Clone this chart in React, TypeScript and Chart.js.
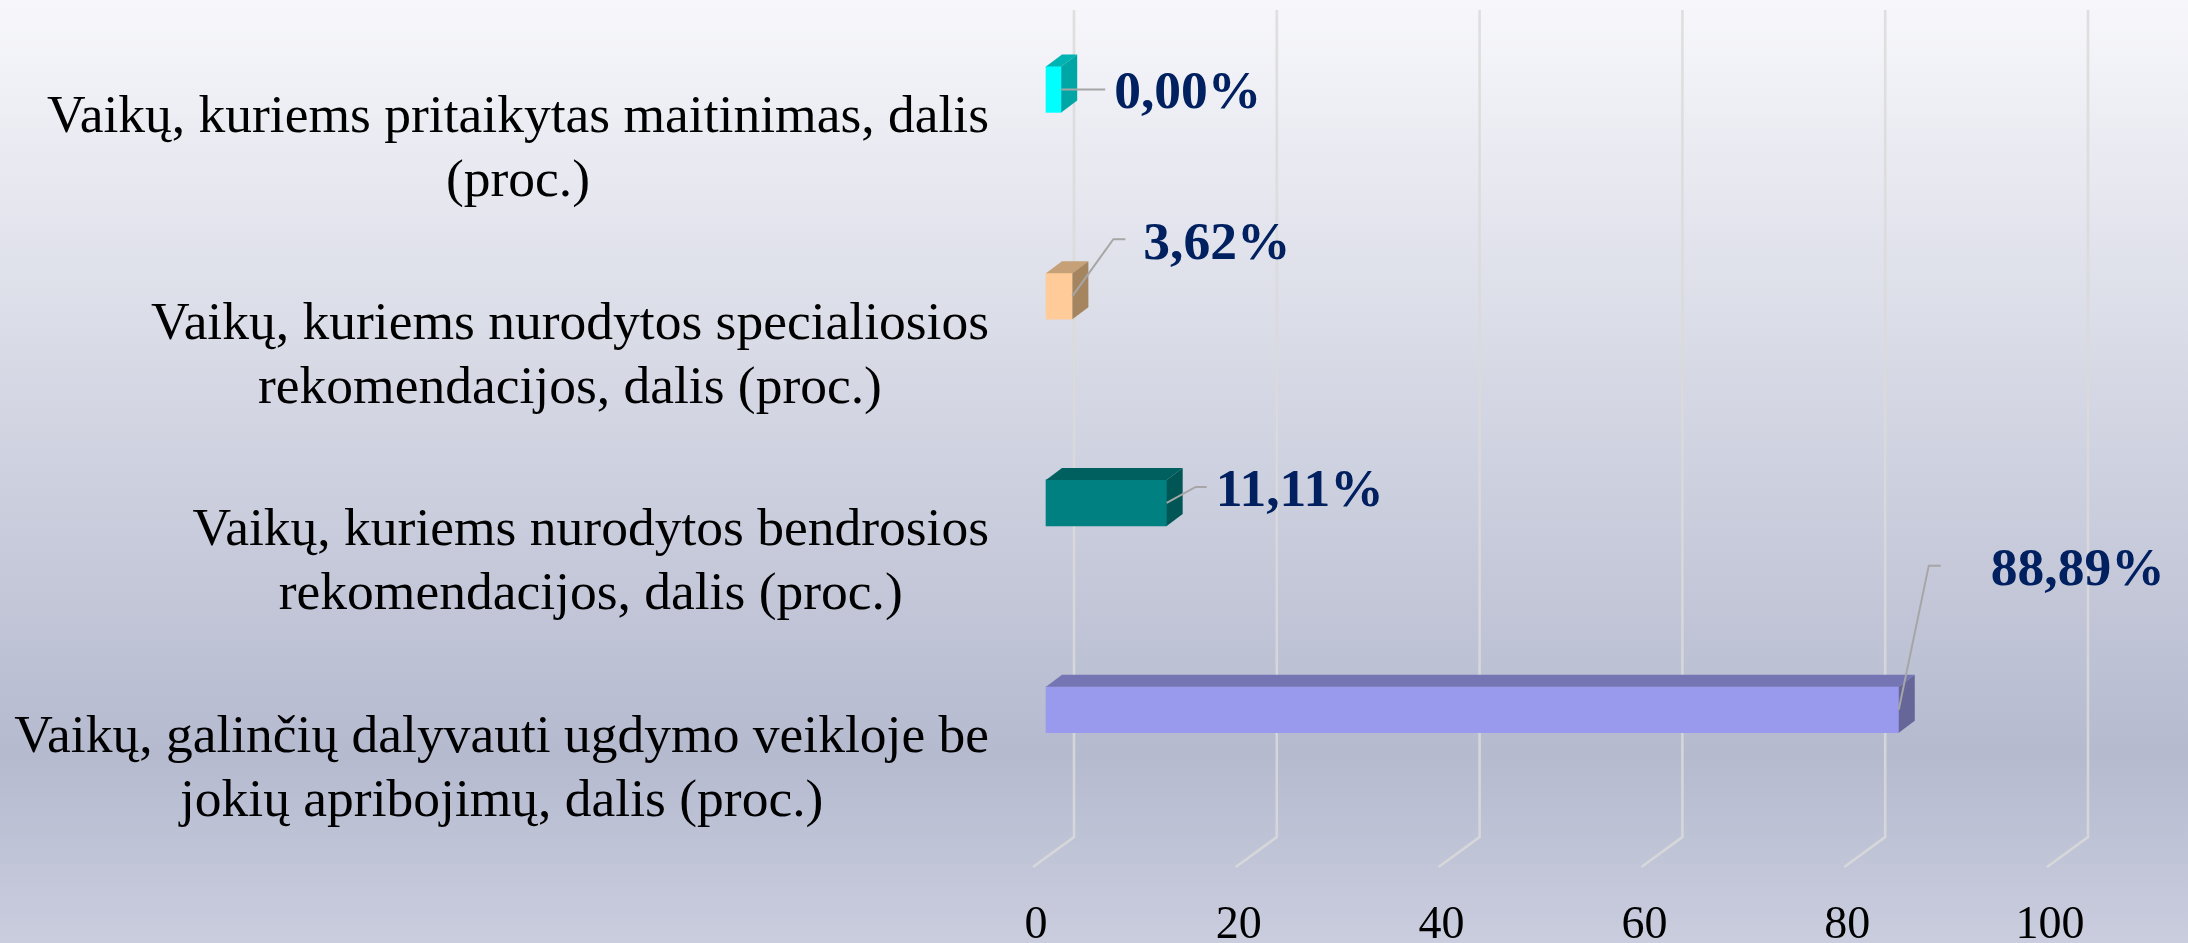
import React, { useEffect, useRef } from "react";
import { Chart, registerables } from "chart.js";

Chart.register(...registerables);

const categories = [
  ["Vaikų, kuriems pritaikytas maitinimas, dalis", "(proc.)"],
  ["Vaikų, kuriems nurodytos specialiosios", "rekomendacijos, dalis (proc.)"],
  ["Vaikų, kuriems nurodytos bendrosios", "rekomendacijos, dalis (proc.)"],
  ["Vaikų, galinčių dalyvauti ugdymo veikloje be", "jokių apribojimų, dalis (proc.)"],
];
// Bar lengths as drawn, read against the axis; the printed labels differ from them in the picture.
const barLengths = [1.5, 2.6, 11.9, 84.1];
const valueLabels = ["0,00%", "3,62%", "11,11%", "88,89%"];
const frontColors = ["#00FFFF", "#FFCC99", "#008080", "#9999EE"];
const topColors = ["#00B3B3", "#C6A077", "#006060", "#7575B3"];
const sideColors = ["#00A6A6", "#A5855F", "#005555", "#666699"];

const SERIF = '"Liberation Serif", serif';
const DEPTH = { x: 16, y: 12 };
const WALL = { x: 41, y: 30 };
const BAR_SHIFT = { x: 13, y: -54 };
// Leader line and label offsets from the bar's end: elbow, line end, text start.
const leaders = [
  { ex: 44, ey: 0, lx: 44, ty: 19, tx: 53 },
  { ex: 41, ey: -57, lx: 53, ty: -37, tx: 71 },
  { ex: 29, ey: -16, lx: 40, ty: 3, tx: 49 },
  { ex: 30, ey: -144, lx: 42, ty: -125, tx: 92 },
];

const sceneryPlugin = {
  id: "scenery",
  beforeDraw(chart: any) {
    const { ctx, width, height } = chart;
    const g = ctx.createLinearGradient(0, 0, 0, height);
    g.addColorStop(0, "#F7F7FB");
    g.addColorStop(0.35, "#DADCE7");
    g.addColorStop(0.8, "#B5BACF");
    g.addColorStop(1, "#CACDDE");
    ctx.save();
    ctx.fillStyle = g;
    ctx.fillRect(0, 0, width, height);
    ctx.restore();
  },
  beforeDatasetsDraw(chart: any) {
    const { ctx, chartArea, scales } = chart;
    const xs = scales.x;
    ctx.save();
    ctx.strokeStyle = "rgba(218,218,218,0.85)";
    ctx.lineWidth = 2.6;
    xs.ticks.forEach((_: any, i: number) => {
      const px = xs.getPixelForTick(i);
      ctx.beginPath();
      ctx.moveTo(px + WALL.x, chartArea.top - WALL.y);
      ctx.lineTo(px + WALL.x, chartArea.bottom - WALL.y);
      ctx.lineTo(px, chartArea.bottom);
      ctx.stroke();
    });
    ctx.restore();
    // Category labels: each block is centred on itself and right-aligned as a block.
    const ys = scales.y;
    const rightEdge = chartArea.left - 44;
    const lineHeight = 64;
    ctx.save();
    ctx.font = `53.5px ${SERIF}`;
    ctx.fillStyle = "#000000";
    ctx.textAlign = "center";
    ctx.textBaseline = "middle";
    categories.forEach((lines, i) => {
      const widest = Math.max(...lines.map((l) => ctx.measureText(l).width));
      const cx = rightEdge - widest / 2;
      const cy = ys.getPixelForTick(i) + 6.5;
      lines.forEach((l, j) => {
        ctx.fillText(l, cx, cy + (j - (lines.length - 1) / 2) * lineHeight);
      });
    });
    ctx.restore();
  },
  beforeDatasetDraw(chart: any) {
    chart.ctx.save();
    chart.ctx.translate(BAR_SHIFT.x, BAR_SHIFT.y);
  },
  afterDatasetDraw(chart: any, args: any) {
    const { ctx } = chart;
    args.meta.data.forEach((bar: any, i: number) => {
      const top = bar.y - bar.height / 2;
      const bottom = bar.y + bar.height / 2;
      ctx.fillStyle = topColors[i];
      ctx.beginPath();
      ctx.moveTo(bar.base, top);
      ctx.lineTo(bar.base + DEPTH.x, top - DEPTH.y);
      ctx.lineTo(bar.x + DEPTH.x, top - DEPTH.y);
      ctx.lineTo(bar.x, top);
      ctx.closePath();
      ctx.fill();
      ctx.fillStyle = sideColors[i];
      ctx.beginPath();
      ctx.moveTo(bar.x, top);
      ctx.lineTo(bar.x + DEPTH.x, top - DEPTH.y);
      ctx.lineTo(bar.x + DEPTH.x, bottom - DEPTH.y);
      ctx.lineTo(bar.x, bottom);
      ctx.closePath();
      ctx.fill();
    });
    args.meta.data.forEach((bar: any, i: number) => {
      const l = leaders[i];
      ctx.strokeStyle = "#A6A6A6";
      ctx.lineWidth = 2;
      ctx.beginPath();
      ctx.moveTo(bar.x, bar.y);
      ctx.lineTo(bar.x + l.ex, bar.y + l.ey);
      ctx.lineTo(bar.x + l.lx, bar.y + l.ey);
      ctx.stroke();
      ctx.fillStyle = "#002060";
      ctx.font = `bold 53.5px ${SERIF}`;
      ctx.textAlign = "left";
      ctx.textBaseline = "alphabetic";
      ctx.fillText(valueLabels[i], bar.x + l.tx, bar.y + l.ty);
    });
    ctx.restore();
  },
};

export default function App() {
  const ref = useRef<HTMLCanvasElement>(null);
  useEffect(() => {
    document.body.style.margin = "0";
    const chart = new Chart(ref.current as HTMLCanvasElement, {
      type: "bar",
      plugins: [sceneryPlugin],
      data: {
        labels: categories,
        datasets: [
          {
            data: barLengths,
            backgroundColor: frontColors,
            borderWidth: 0,
            barThickness: 46,
            clip: false,
          } as any,
        ],
      },
      options: {
        indexAxis: "y",
        responsive: false,
        animation: false,
        layout: { padding: { top: 40, right: 141, left: 0, bottom: 0 } },
        plugins: { legend: { display: false }, tooltip: { enabled: false } },
        scales: {
          x: {
            min: 0,
            max: 100,
            afterFit: (s: any) => {
              s.height = 76;
            },
            border: { display: false },
            grid: { display: false, drawTicks: false },
            ticks: {
              stepSize: 20,
              maxRotation: 0,
              padding: 31,
              labelOffset: 3,
              color: "#000000",
              font: { family: SERIF, size: 46 },
            },
          },
          y: {
            afterFit: (s: any) => {
              s.width = 1033;
            },
            border: { display: false },
            grid: { display: false, drawTicks: false },
            ticks: { display: false },
          },
        },
      },
    });
    return () => chart.destroy();
  }, []);
  return (
    <div style={{ position: "absolute", left: 0, top: 0, width: 2188, height: 943 }}>
      <canvas ref={ref} width={2188} height={943} style={{ display: "block" }} />
    </div>
  );
}
